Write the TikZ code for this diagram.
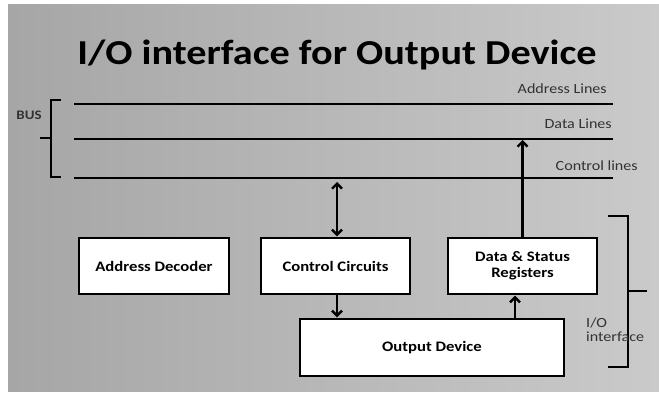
\documentclass[tikz,border=0pt]{standalone}
\usepackage{fontspec}
\setmainfont[FakeStretch=1.15]{Carlito}
\usetikzlibrary{arrows.meta}
\definecolor{panelL}{RGB}{166,166,166}
\definecolor{panelR}{RGB}{202,202,202}
\definecolor{lbltext}{RGB}{50,50,50}
\begin{document}
\begin{tikzpicture}[x=1pt,y=-1pt,
  box/.style={draw=black, line width=1.4pt, fill=white, align=center,
    inner sep=0pt, font=\bfseries\fontsize{14.5}{16}\selectfont},
  busline/.style={line width=2.4pt},
  lbl/.style={font=\fontsize{14}{14}\selectfont, text=lbltext, inner sep=0pt},
  arr/.style={line width=2.4pt, -{Straight Barb[length=5pt,width=10pt]}},
  biarr/.style={line width=2.4pt, {Straight Barb[length=5pt,width=10pt]}-{Straight Barb[length=5pt,width=10pt]}},
  bracket/.style={line width=2.2pt}]
\useasboundingbox (0,0) rectangle (659,393);
\fill[white] (0,0) rectangle (659,393);
\shade[left color=panelL, right color=panelR] (8,5) rectangle (659,391);

% title
\node[font=\bfseries\fontsize{35}{40}\selectfont, inner sep=0pt] (title) at (337,55) {I/O interface for Output Device};

% system bus
\coordinate (addrL) at (74,104);  \coordinate (addrR) at (613,104);
\coordinate (dataL) at (74,139);  \coordinate (dataR) at (613,139);
\coordinate (ctlL)  at (74,178);  \coordinate (ctlR)  at (613,178);
\draw[busline] (addrL) -- (addrR);
\draw[busline] (dataL) -- (dataR);
\draw[busline] (ctlL) -- (ctlR);
\node[lbl, anchor=east] (addrlbl) at (607,89) {Address Lines};
\node[lbl, anchor=east] (datalbl) at (612,124) {Data Lines};
\node[lbl, anchor=east] (ctllbl) at (638,166) {Control lines};

% bus bracket
\draw[bracket] (61,100) -- (51,100) -- (51,177) -- (61,177);
\draw[bracket] (51,138) -- (40,138);
\node[font=\bfseries\fontsize{13}{14}\selectfont, text=lbltext, inner sep=0pt] (buslbl) at (29,115) {BUS};

% interface blocks
\node[box, minimum width=150pt, minimum height=56pt] (ad) at (154,266) {Address Decoder};
\node[box, minimum width=149pt, minimum height=56pt] (cc) at (335.5,266) {Control Circuits};
\node[box, minimum width=149pt, minimum height=56pt] (dsr) at (522.5,266) {Data \& Status\\Registers};
\node[box, minimum width=264pt, minimum height=57pt] (od) at (432,347.5) {Output Device};

% connections
\coordinate (ctlTap) at (337,178);
\coordinate (upX) at (515,0);
\draw[biarr, shorten <=4pt, shorten >=1pt] (ctlTap) -- (ctlTap |- cc.north);
\draw[arr, shorten >=1pt] (cc.south -| ctlTap) -- (ctlTap |- od.north);
\draw[arr, shorten >=1pt] (od.north -| upX) -- (dsr.south -| upX);
\draw[arr, shorten >=1pt] (dsr.north) -- (dsr.north |- dataR);

% I/O interface bracket
\draw[bracket] (608,216) -- (628,216) -- (628,367) -- (608,367);
\draw[bracket] (628,291) -- (647,291);
\node[lbl, anchor=west, align=left, font=\fontsize{14}{14}\selectfont] (iolbl) at (586,330) {I/O\\interface};
\end{tikzpicture}
\end{document}
